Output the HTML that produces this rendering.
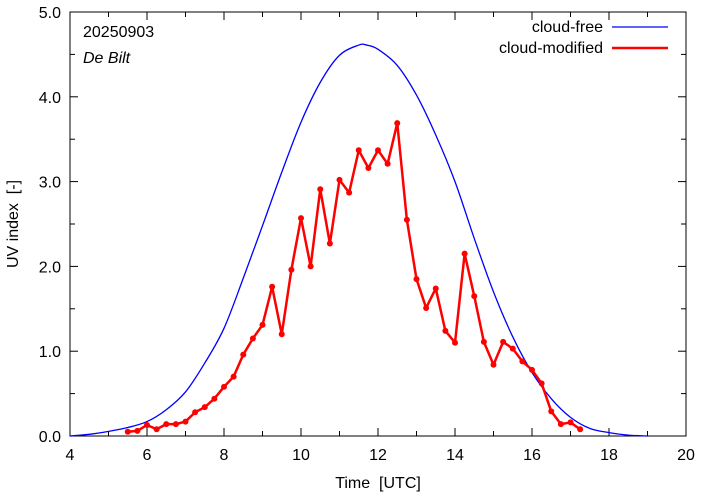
<!DOCTYPE html>
<html><head><meta charset="utf-8"><style>
body{margin:0;background:#fff}
svg text{font-family:"Liberation Sans",sans-serif;font-size:16px;fill:#000}
</style></head><body>
<svg id="chart" width="702" height="497" xmlns="http://www.w3.org/2000/svg">
<g id="axes"></g>
<g id="series"></g>
<text x="83" y="37">20250903</text>
<text x="83" y="63" font-style="italic">De Bilt</text>
<g>
<text x="603" y="32" text-anchor="end">cloud-free</text>
<line x1="612" y1="27" x2="668" y2="27" stroke="#0000ff" stroke-width="1.3"/>
<text x="603" y="53" text-anchor="end">cloud-modified</text>
<line x1="612" y1="48" x2="668" y2="48" stroke="#ff0000" stroke-width="2.5"/>
</g>
<text x="378" y="488" text-anchor="middle" xml:space="preserve">Time  [UTC]</text>
<text x="18" y="224" text-anchor="middle" transform="rotate(-90 18 224)" xml:space="preserve">UV index  [-]</text>
</svg>
<script>
const xTicks=[4,6,8,10,12,14,16,18,20];
const yTicks=[0,1,2,3,4,5];
const clearTimes=[4,4.5,5,5.5,6,6.5,7,7.5,8,8.5,9,9.5,10,10.5,11,11.5,11.7,12,12.5,13,13.5,14,14.5,15,15.5,16,16.5,17,17.5,18,18.5,19];
const clearValues=[0.0,0.02,0.055,0.1,0.17,0.31,0.52,0.86,1.27,1.86,2.48,3.11,3.70,4.17,4.49,4.61,4.61,4.56,4.37,4.02,3.55,3.0,2.33,1.70,1.17,0.75,0.44,0.22,0.09,0.04,0.01,0.0];
const obsTimes=[5.5,5.75,6,6.25,6.5,6.75,7,7.25,7.5,7.75,8,8.25,8.5,8.75,9,9.25,9.5,9.75,10,10.25,10.5,10.75,11,11.25,11.5,11.75,12,12.25,12.5,12.75,13,13.25,13.5,13.75,14,14.25,14.5,14.75,15,15.25,15.5,15.75,16,16.25,16.5,16.75,17,17.25];
const obsValues=[0.05,0.06,0.13,0.08,0.14,0.14,0.17,0.28,0.34,0.44,0.58,0.70,0.96,1.15,1.31,1.76,1.20,1.96,2.57,2.00,2.91,2.27,3.02,2.87,3.37,3.16,3.37,3.21,3.69,2.55,1.85,1.51,1.74,1.24,1.10,2.15,1.65,1.11,0.84,1.11,1.03,0.88,0.78,0.62,0.29,0.14,0.16,0.08];
const L=70,R=686,T=12,B=436;
const sx=v=>L+(v-4)/16*(R-L);
const sy=v=>B-v/5*(B-T);
const NS="http://www.w3.org/2000/svg";
const axes=document.getElementById('axes'),series=document.getElementById('series');
function mk(tag,attrs,parent){const e=document.createElementNS(NS,tag);for(const k in attrs)e.setAttribute(k,attrs[k]);parent.appendChild(e);return e;}
const frame=mk('rect',{x:L,y:T,width:R-L,height:B-T,fill:'none',stroke:'#000','stroke-width':1},axes);


for(let h=4;h<=20;h++){const x=sx(h);const len=(h%2===0)?8:5;
 const t1=mk('line',{x1:x,y1:B,x2:x,y2:B-len,stroke:'#000'},axes);
 
 
 const t2=mk('line',{x1:x,y1:T,x2:x,y2:T+len,stroke:'#000'},axes);
 
 }
xTicks.forEach(v=>{const t=mk('text',{x:sx(v),y:B+24,'text-anchor':'middle'},axes);t.textContent=v;
 
 });
for(let k=0;k<=10;k++){const v=k/2,y=sy(v),len=(k%2===0)?8:5;
 const t1=mk('line',{x1:L,y1:y,x2:L+len,y2:y,stroke:'#000'},axes);
 
 
 const t2=mk('line',{x1:R,y1:y,x2:R-len,y2:y,stroke:'#000'},axes);
 
 }
yTicks.forEach(v=>{const t=mk('text',{x:L-9,y:sy(v)+6,'text-anchor':'end'},axes);t.textContent=v.toFixed(1);
 
 });
// smooth Catmull-Rom path through clear-sky points
const P=clearTimes.map((t,i)=>[sx(t),sy(clearValues[i])]);
let d='M'+P[0][0]+','+P[0][1];
for(let i=0;i<P.length-1;i++){const p0=P[Math.max(i-1,0)],p1=P[i],p2=P[i+1],p3=P[Math.min(i+2,P.length-1)];
 const c1=[p1[0]+(p2[0]-p0[0])/6,p1[1]+(p2[1]-p0[1])/6],c2=[p2[0]-(p3[0]-p1[0])/6,p2[1]-(p3[1]-p1[1])/6];
 d+=' C'+c1[0]+','+c1[1]+' '+c2[0]+','+c2[1]+' '+p2[0]+','+p2[1];}
const cl=mk('path',{d:d,fill:'none',stroke:'#0000ff','stroke-width':1.3},series);


const ol=mk('polyline',{points:obsTimes.map((t,i)=>sx(t)+','+sy(obsValues[i])).join(' '),fill:'none',stroke:'#ff0000','stroke-width':2.5,'stroke-linejoin':'round'},series);


obsTimes.forEach((t,i)=>{const c=mk('circle',{cx:sx(t),cy:sy(obsValues[i]),r:3,fill:'#ff0000'},series);
 
 });
</script>
</body></html>
